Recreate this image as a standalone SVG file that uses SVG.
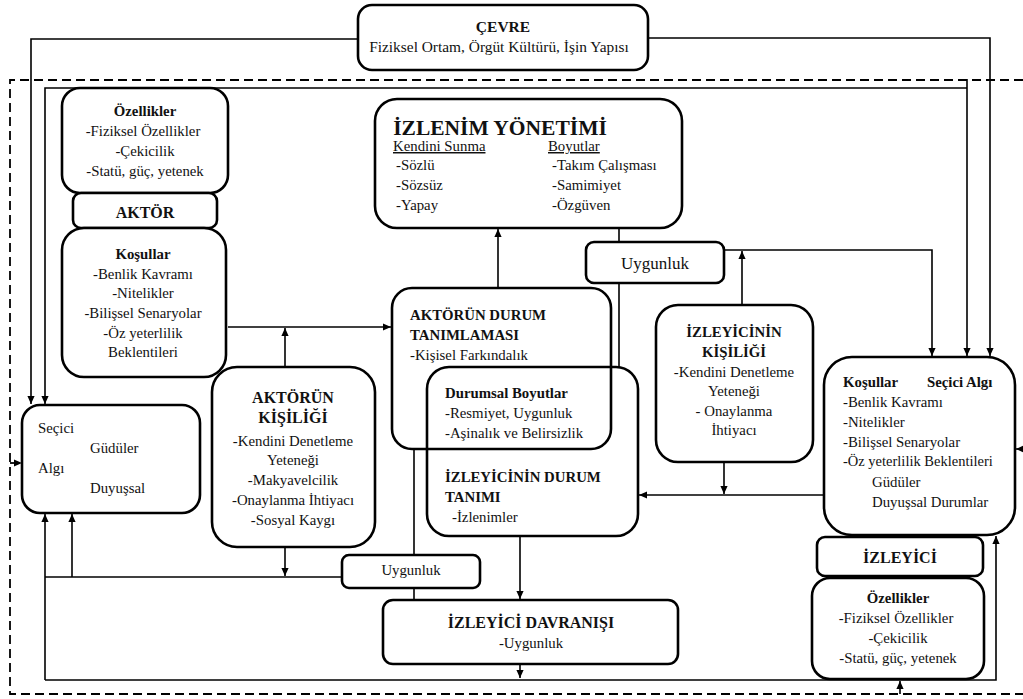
<svg xmlns="http://www.w3.org/2000/svg" width="1023" height="699" viewBox="0 0 1023 699" font-family="'Liberation Serif', 'DejaVu Serif', serif">
  <style>
    .box { fill: #fff; stroke: #000; stroke-width: 2.6; }
    .open { fill: none; stroke: #000; stroke-width: 2.6; }
    .ln { fill: none; stroke: #000; stroke-width: 1.6; }
    .dash { fill: none; stroke: #000; stroke-width: 1.8; stroke-dasharray: 9 5; }
    text { font-family: "Liberation Serif", "DejaVu Serif", serif; font-size: 14.8px; fill: #111; }
    .b { font-weight: bold; }
    .c { text-anchor: middle; }
    .h { font-size: 16px; }
    .u { text-decoration: underline; }
  </style>
  <defs>
    <marker id="arr" viewBox="0 0 10 10" refX="10" refY="5" markerWidth="9" markerHeight="8" markerUnits="userSpaceOnUse" orient="auto">
      <path d="M0,0.5 L10,5 L0,9.5 z" fill="#000"/>
    </marker>
  </defs>
  <rect width="1023" height="699" fill="#fff"/>

  <!-- connectors -->
  <g id="connectors">
    <!-- outer dashed frame -->
    <path class="dash" d="M1023,80 H10 V694 H1023"/>
    <path class="dash" d="M10,463 H22" marker-end="url(#arr)"/>
    <path class="ln" d="M1023,449 H1016" marker-end="url(#arr)"/>
    <path class="ln" d="M900,694 V681" marker-end="url(#arr)"/>

    <!-- environment feeds -->
    <path class="ln" d="M358,39 H31 V404" marker-end="url(#arr)"/>
    <path class="ln" d="M648,38 H990 V356" marker-end="url(#arr)"/>

    <!-- inner loop across the top -->
    <path class="ln" d="M967,79 V356" marker-end="url(#arr)"/>
    <path class="ln" d="M967,88 H45 V404" marker-end="url(#arr)"/>

    <!-- actor side -->
    <path class="ln" d="M228,327 H391" marker-end="url(#arr)"/>
    <path class="ln" d="M285,367 V328" marker-end="url(#arr)"/>
    <path class="ln" d="M498,288 V229" marker-end="url(#arr)"/>
    <path class="ln" d="M285,547 V576" marker-end="url(#arr)"/>

    <!-- fit links -->
    <path class="ln" d="M619,228 V367"/>
    <path class="ln" d="M724,250 H932 V356" marker-end="url(#arr)"/>
    <path class="ln" d="M742,305 V251" marker-end="url(#arr)"/>
    <path class="ln" d="M414,449 V600"/>
    <path class="ln" d="M45,577 H342"/>
    <path class="ln" d="M72,577 V514" marker-end="url(#arr)"/>

    <!-- observer side -->
    <path class="ln" d="M724,462 V494" marker-end="url(#arr)"/>
    <path class="ln" d="M824,495 H639" marker-end="url(#arr)"/>
    <path class="ln" d="M520,536 V599" marker-end="url(#arr)"/>
    <path class="ln" d="M520,664 V678" marker-end="url(#arr)"/>

    <!-- bottom feedback loop -->
    <path class="ln" d="M45,680 V514" marker-end="url(#arr)"/>
    <path class="ln" d="M45,680 H996 V536" marker-end="url(#arr)"/>
  </g>

  <!-- ÇEVRE -->
  <g id="cevre">
    <rect class="box" x="358" y="5" width="290" height="65" rx="14"/>
    <text class="b c" x="503" y="32" style="font-size:15.5px">ÇEVRE</text>
    <text class="c" x="499" y="52" style="font-size:15.4px">Fiziksel Ortam, Örgüt Kültürü, İşin Yapısı</text>
  </g>

  <!-- actor: traits -->
  <g id="aktor-ozellikler">
    <rect class="box" x="62" y="88" width="166" height="105" rx="18"/>
    <text class="b c" x="145" y="116">Özellikler</text>
    <text class="c" x="143" y="136">-Fiziksel Özellikler</text>
    <text class="c" x="145" y="156">-Çekicilik</text>
    <text class="c" x="145" y="176">-Statü, güç, yetenek</text>
  </g>

  <g id="aktor">
    <rect class="box" x="73" y="193" width="144" height="35" rx="8"/>
    <text class="b c h" x="145" y="218">AKTÖR</text>
  </g>

  <g id="aktor-kosullar">
    <rect class="box" x="62" y="228" width="164" height="149" rx="22"/>
    <text class="b c" x="143" y="259">Koşullar</text>
    <text class="c" x="143" y="279">-Benlik Kavramı</text>
    <text class="c" x="143" y="298">-Nitelikler</text>
    <text class="c" x="143" y="318">-Bilişsel Senaryolar</text>
    <text class="c" x="143" y="338">-Öz yeterlilik</text>
    <text class="c" x="143" y="357">Beklentileri</text>
  </g>

  <g id="aktor-secici">
    <rect class="box" x="22" y="405" width="178" height="108" rx="18"/>
    <text x="38" y="433">Seçici</text>
    <text x="90" y="453">Güdüler</text>
    <text x="38" y="473">Algı</text>
    <text x="90" y="493">Duyuşsal</text>
  </g>

  <g id="aktorun-kisiligi">
    <rect class="box" x="212" y="367" width="163" height="180" rx="25"/>
    <text class="b c h" x="293" y="403">AKTÖRÜN</text>
    <text class="b c h" x="293" y="423">KİŞİLİĞİ</text>
    <text class="c" x="293" y="446">-Kendini Denetleme</text>
    <text class="c" x="293" y="465">Yeteneği</text>
    <text class="c" x="293" y="485">-Makyavelcilik</text>
    <text class="c" x="293" y="505">-Onaylanma İhtiyacı</text>
    <text class="c" x="293" y="525">-Sosyal Kaygı</text>
  </g>

  <!-- impression management -->
  <g id="izlenim-yonetimi">
    <rect class="box" x="375" y="99" width="307" height="129" rx="22"/>
    <text class="b c" x="500" y="135" style="font-size:21.5px">İZLENİM YÖNETİMİ</text>
    <text class="u" x="393" y="151">Kendini Sunma</text>
    <text class="u" x="548" y="151">Boyutlar</text>
    <text x="396" y="170">-Sözlü</text>
    <text x="396" y="190">-Sözsüz</text>
    <text x="396" y="210">-Yapay</text>
    <text x="552" y="170">-Takım Çalışması</text>
    <text x="552" y="190">-Samimiyet</text>
    <text x="552" y="210">-Özgüven</text>
  </g>

  <g id="uygunluk-ust">
    <rect class="box" x="586" y="242" width="138" height="41" rx="8"/>
    <text class="c" x="655" y="269" style="font-size:17px">Uygunluk</text>
  </g>

  <!-- overlapping situation definitions -->
  <g id="aktorun-durum">
    <rect class="open" x="392" y="288" width="219" height="161" rx="20"/>
    <text class="b" x="410" y="320">AKTÖRÜN DURUM</text>
    <text class="b" x="410" y="340">TANIMLAMASI</text>
    <text x="410" y="360">-Kişisel Farkındalık</text>
  </g>

  <g id="izleyicinin-durum">
    <rect class="open" x="427" y="367" width="211" height="169" rx="22"/>
    <text class="b" x="445" y="398">Durumsal Boyutlar</text>
    <text x="445" y="418">-Resmiyet, Uygunluk</text>
    <text x="445" y="438">-Aşinalık ve Belirsizlik</text>
    <text class="b" x="445" y="482">İZLEYİCİNİN DURUM</text>
    <text class="b" x="445" y="502">TANIMI</text>
    <text x="452" y="522">-İzlenimler</text>
  </g>

  <g id="izleyicinin-kisiligi">
    <rect class="box" x="656" y="305" width="157" height="157" rx="22"/>
    <text class="b c" x="734" y="337">İZLEYİCİNİN</text>
    <text class="b c" x="734" y="357">KİŞİLİĞİ</text>
    <text class="c" x="734" y="377">-Kendini Denetleme</text>
    <text class="c" x="734" y="396">Yeteneği</text>
    <text class="c" x="734" y="416">- Onaylanma</text>
    <text class="c" x="734" y="435">İhtiyacı</text>
  </g>

  <g id="uygunluk-alt">
    <rect class="box" x="342" y="555" width="138" height="33" rx="7"/>
    <text class="c" x="411" y="575">Uygunluk</text>
  </g>

  <g id="izleyici-davranisi">
    <rect class="box" x="383" y="600" width="295" height="64" rx="10"/>
    <text class="b c h" x="531" y="628">İZLEYİCİ DAVRANIŞI</text>
    <text class="c" x="531" y="648">-Uygunluk</text>
  </g>

  <!-- observer -->
  <g id="izleyici-kosullar">
    <rect class="box" x="824" y="357" width="191" height="178" rx="28"/>
    <text class="b" x="843" y="387">Koşullar</text>
    <text class="b" x="927" y="387">Seçici Algı</text>
    <text x="843" y="407">-Benlik Kavramı</text>
    <text x="843" y="427">-Nitelikler</text>
    <text x="843" y="447">-Bilişsel Senaryolar</text>
    <text x="843" y="466" style="font-size:14.5px">-Öz yeterlilik Beklentileri</text>
    <text x="872" y="487">Güdüler</text>
    <text x="872" y="507">Duyuşsal Durumlar</text>
  </g>

  <g id="izleyici">
    <rect class="box" x="817" y="537" width="166" height="39" rx="8"/>
    <text class="b c h" x="900" y="563">İZLEYİCİ</text>
  </g>

  <g id="izleyici-ozellikler">
    <rect class="box" x="812" y="578" width="172" height="101" rx="18"/>
    <text class="b c" x="898" y="603">Özellikler</text>
    <text class="c" x="896" y="623">-Fiziksel Özellikler</text>
    <text class="c" x="898" y="643">-Çekicilik</text>
    <text class="c" x="898" y="663">-Statü, güç, yetenek</text>
  </g>
</svg>
